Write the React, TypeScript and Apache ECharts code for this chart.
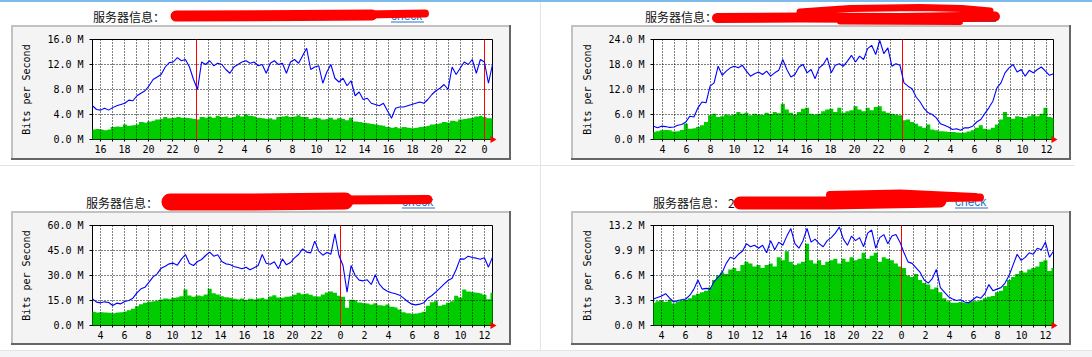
import React, { useEffect, useRef } from 'react';
import * as echarts from 'echarts';

// ---- data (Mbit/s), one value every ~20 minutes across the 33.3 h window ----
const P1_OUT = [
  5.4, 4.8,
  4.7, 5.0, 4.7, 5.1, 5.4, 5.6, 5.8, 6.3, 6.2, 7.0, 7.4, 7.8,
  8.6, 9.6, 10.0, 10.4, 11.6, 12.3, 12.4, 13.1, 12.6, 12.8, 11.6, 9.6,
  8.0, 12.4, 12.0, 12.6, 11.8, 12.2, 12.0, 11.2, 10.6, 11.6, 12.0, 12.4,
  12.6, 12.2, 12.4, 11.8, 12.0, 10.6, 12.2, 12.6, 12.0, 12.2, 10.6, 12.4,
  12.8, 12.2, 13.4, 14.6, 11.2, 11.6, 11.8, 9.0, 10.8, 12.0, 9.8, 9.2,
  9.8, 8.6, 9.4, 7.0, 7.6, 6.4, 6.6, 5.8, 5.6, 5.4, 5.8, 4.6,
  3.4, 5.0, 5.2, 5.2, 5.4, 5.6, 5.8, 6.0, 5.8, 6.4, 7.2, 7.8,
  8.2, 8.8, 8.0, 11.6, 10.4, 11.4, 12.4, 12.0, 12.8, 10.6, 12.8, 12.4,
  9.0, 12.0,
];
const P1_IN = [
  1.6, 1.7,
  1.6, 1.5, 1.6, 2.0, 2.1, 2.0, 2.4, 2.2, 2.3, 2.4, 2.8, 2.7,
  2.9, 3.0, 3.2, 3.3, 3.6, 3.4, 3.5, 3.6, 3.5, 3.5, 3.4, 3.3,
  3.2, 3.6, 3.5, 3.7, 3.5, 3.8, 3.6, 3.7, 3.5, 3.6, 3.9, 3.7,
  4.0, 3.8, 3.7, 3.5, 3.4, 3.3, 3.4, 3.2, 3.6, 3.7, 3.8, 3.6,
  3.7, 3.9, 3.6, 3.6, 3.3, 3.5, 3.4, 3.2, 3.3, 3.5, 3.2, 3.4,
  3.3, 3.1, 3.5, 2.9, 2.8, 2.7, 2.6, 2.5, 2.4, 2.3, 2.2, 2.0,
  1.9, 2.0, 1.8, 2.0, 1.9, 1.8, 1.9, 2.0, 2.1, 2.2, 2.4, 2.5,
  2.6, 2.8, 2.7, 3.0, 2.9, 3.2, 3.3, 3.4, 3.5, 3.7, 3.8, 3.6,
  3.4, 3.4,
];
const P2_OUT = [
  3.2, 2.8,
  3.2, 3.1, 2.9, 3.0, 3.4, 3.6, 4.2, 5.6, 5.4, 7.6, 9.0, 8.8,
  12.8, 13.6, 17.6, 15.4, 16.4, 17.2, 17.6, 17.2, 17.8, 16.4, 15.2, 15.8,
  16.2, 15.6, 16.4, 15.2, 16.0, 16.6, 19.2, 16.8, 15.0, 15.6, 17.4, 18.0,
  16.0, 16.8, 14.6, 17.2, 18.0, 19.6, 16.0, 17.8, 18.2, 17.6, 18.8, 20.2,
  18.6, 20.0, 19.2, 21.8, 22.6, 20.4, 23.8, 20.6, 22.0, 17.6, 18.2, 17.8,
  13.6, 12.8, 12.2, 10.2, 9.0, 7.4, 6.4, 6.0, 5.2, 3.8, 3.4, 3.0,
  2.4, 2.6, 2.2, 2.8, 2.8, 3.2, 4.2, 4.8, 6.2, 7.6, 9.2, 12.4,
  13.6, 16.0, 17.2, 18.0, 16.2, 16.8, 15.2, 16.6, 16.0, 16.8, 17.4, 16.4,
  15.4, 15.8,
];
const P2_IN = [
  1.8, 2.0,
  2.2, 2.3, 2.2, 1.9, 2.0, 2.3, 3.8, 2.6, 2.7, 3.0, 3.4, 4.2,
  5.8, 6.2, 5.4, 5.6, 6.0, 5.8, 6.0, 6.6, 6.2, 6.4, 5.8, 6.2,
  6.0, 5.9, 6.4, 6.1, 6.6, 6.3, 8.6, 7.2, 6.4, 6.0, 6.6, 7.4,
  7.6, 6.2, 6.0, 6.2, 6.8, 7.2, 7.4, 6.6, 7.6, 6.4, 6.8, 7.0,
  8.0, 7.2, 6.8, 7.6, 7.0, 7.8, 8.0, 6.8, 6.4, 6.2, 6.0, 5.8,
  4.6, 4.8, 4.2, 3.8, 3.2, 2.8, 3.6, 2.4, 2.2, 2.0, 1.9, 1.8,
  1.8, 1.7, 1.6, 1.7, 1.9, 2.2, 2.8, 3.4, 2.6, 2.4, 2.8, 3.6,
  4.8, 6.6, 5.4, 5.0, 5.6, 5.4, 5.2, 5.6, 6.0, 5.6, 6.2, 7.6,
  5.4, 5.2,
];
const P3_OUT = [
  16.0, 14.0,
  13.6, 14.2, 13.8, 12.0, 13.4, 13.0, 14.4, 15.0, 16.4, 19.6, 22.0, 23.0,
  26.0, 29.2, 31.0, 34.4, 35.6, 37.0, 37.4, 36.2, 39.8, 42.6, 37.2, 36.0,
  38.4, 39.6, 42.0, 44.0, 41.6, 42.4, 38.4, 37.0, 36.6, 35.4, 34.8, 34.0,
  35.0, 33.4, 34.6, 36.0, 42.6, 37.4, 36.8, 38.2, 34.0, 40.0, 36.4, 37.8,
  40.6, 42.6, 46.0, 44.0, 43.6, 50.6, 44.6, 42.2, 43.8, 42.8, 55.0, 42.0,
  36.0, 20.0, 36.0, 30.0, 27.2, 26.8, 27.4, 24.6, 30.4, 24.8, 22.0, 20.6,
  19.6, 19.0, 18.2, 16.4, 14.4, 12.8, 12.4, 12.8, 13.6, 16.4, 18.0, 20.2,
  22.4, 24.8, 27.0, 28.4, 33.6, 40.0, 39.8, 41.6, 40.8, 40.4, 39.8, 40.6,
  35.0, 41.0,
];
const P3_IN = [
  8.2, 7.8,
  8.0, 7.8, 7.6, 7.4, 7.8, 8.0, 8.4, 9.2, 10.0, 11.6, 12.8, 13.6,
  14.2, 14.6, 15.0, 15.6, 16.2, 15.8, 16.6, 17.0, 17.6, 21.6, 18.0, 17.2,
  18.0, 17.6, 18.6, 22.0, 19.4, 18.6, 17.6, 17.0, 16.6, 16.0, 15.6, 16.2,
  15.4, 16.0, 15.6, 16.2, 16.6, 15.8, 17.4, 18.2, 16.8, 16.6, 17.2, 17.6,
  18.4, 19.6, 18.8, 19.2, 18.4, 17.6, 17.4, 18.6, 19.8, 20.4, 19.6, 17.8,
  17.2, 10.6, 15.4, 15.2, 13.8, 13.4, 13.2, 12.6, 13.4, 12.2, 11.8, 12.6,
  11.2, 10.8, 9.6, 8.0, 7.4, 7.0, 7.2, 7.6, 8.2, 11.8, 14.0, 14.6,
  11.8, 12.4, 13.6, 14.6, 17.8, 16.8, 21.6, 20.4, 20.0, 19.6, 19.2, 18.4,
  15.8, 19.6,
];
const P4_OUT = [
  3.5, 3.7,
  3.9, 4.2, 3.6, 3.1, 3.3, 3.4, 3.5, 4.0, 4.8, 6.0, 4.8, 4.9,
  4.8, 5.8, 6.4, 7.0, 8.2, 9.0, 8.8, 9.4, 9.8, 10.8, 10.4, 10.6,
  10.2, 10.6, 9.6, 11.2, 10.0, 11.0, 10.6, 11.8, 12.8, 10.8, 10.2, 11.2,
  12.8, 11.0, 11.4, 10.8, 10.4, 11.2, 11.6, 12.2, 13.0, 11.4, 10.6, 11.8,
  11.2, 11.6, 10.4, 12.2, 12.6, 10.2, 11.6, 12.0, 10.8, 11.8, 12.0, 11.0,
  9.6, 8.4, 8.2, 7.6, 7.0, 6.0, 5.6, 6.2, 7.4, 5.0, 4.4, 3.8,
  3.5, 3.3, 3.4, 3.1, 3.0, 3.4, 3.8, 3.6, 4.2, 5.4, 4.6, 4.8,
  5.0, 5.6, 6.6, 8.0, 9.4, 8.6, 9.0, 9.6, 9.4, 10.2, 10.0, 11.0,
  9.0, 9.8,
];
const P4_IN = [
  3.0, 3.2,
  3.3, 3.1, 3.4, 2.9, 3.2, 3.3, 3.4, 3.6, 4.0, 4.2, 4.4, 4.6,
  5.0, 6.0, 6.6, 7.0, 6.8, 7.4, 7.6, 7.2, 8.0, 8.4, 8.2, 7.8,
  8.0, 7.6, 8.0, 8.2, 7.8, 9.0, 8.6, 9.8, 8.4, 8.0, 8.2, 8.4,
  10.8, 8.6, 8.2, 8.6, 8.0, 8.4, 8.6, 8.8, 8.2, 8.8, 8.4, 9.0,
  8.6, 8.8, 9.6, 8.8, 9.2, 9.6, 8.4, 9.0, 8.8, 8.6, 8.2, 7.8,
  7.6, 6.6, 6.4, 6.8, 6.0, 5.6, 5.4, 4.8, 5.0, 4.4, 3.6, 3.2,
  3.0, 3.0, 3.1, 3.0, 3.1, 3.2, 3.2, 3.3, 3.6, 3.8, 3.9, 4.4,
  4.6, 5.2, 6.0, 6.4, 6.8, 7.2, 7.0, 7.4, 7.6, 7.8, 8.4, 8.6,
  7.2, 7.6,
];

const Y_MAX = [16, 24, 60, 13.2];
const T_START = [15 + 1 / 3, 3.25, 3 + 1 / 3, 3 + 1 / 3];
const SPAN_HOURS = 100 / 3;
const TITLE = '服务器信息：';
const LINK_TEXT = 'check';
const Y_NAME = 'Bits per Second';

// ---- layout ----
const MONO = '"DejaVu Sans Mono", monospace';
const PLOT_W = 400;
const PLOT_H = 100;
const LAYOUT = [
  {
    left: 92.5, top: 39.5, box: [11, 25, 511, 160], titleX: 93, titleY: 16, linkX: 391, linkY: 15.5,
    scribbles: [
      { w: 11, pts: [[176, 16], [300, 15.5], [372, 15]] },
      { w: 8, pts: [[365, 14.5], [425, 13.5]] },
    ],
  },
  {
    left: 653.5, top: 39.5, box: [571, 25, 1071, 160], titleX: 645, titleY: 16.5, linkX: 963, linkY: 15,
    scribbles: [
      { w: 10, pts: [[717, 18], [800, 17.5], [900, 18], [995, 16.5]] },
      { w: 7, pts: [[800, 12], [850, 8.5], [920, 7.5], [962, 8.5], [990, 11]] },
      { w: 6, pts: [[840, 21.5], [960, 22]] },
    ],
  },
  {
    left: 92.5, top: 225.5, box: [11, 211, 511, 345], titleX: 86, titleY: 202, linkX: 402, linkY: 201.5,
    scribbles: [
      { w: 17, pts: [[170, 202], [250, 202], [345, 201]] },
      { w: 9, pts: [[340, 200], [428, 199.5]] },
    ],
  },
  {
    left: 653.5, top: 225.5, box: [571, 211, 1071, 345], titleX: 653, titleY: 202.5, linkX: 955, linkY: 201.5,
    scribbles: [
      { w: 13, pts: [[740, 203], [830, 203], [940, 201]] },
      { w: 8, pts: [[830, 195], [900, 193.5], [975, 197]] },
      { w: 8, pts: [[940, 198], [980, 197.5]] },
    ],
  },
];

const OUTS = [P1_OUT, P2_OUT, P3_OUT, P4_OUT];
const INS = [P1_IN, P2_IN, P3_IN, P4_IN];

function toPairs(vals: number[], t0: number) {
  const n = vals.length;
  return vals.map((v, i) => [t0 + (i * SPAN_HOURS) / (n - 1), v]);
}

function hoursBetween(a: number, b: number) {
  const res: number[] = [];
  for (let h = Math.ceil(a - 1e-9); h <= b + 1e-9; h++) res.push(h);
  return res;
}

function buildOption() {
  const grid: any[] = [];
  const xAxis: any[] = [];
  const yAxis: any[] = [];
  const series: any[] = [];
  const graphic: any[] = [];

  // page decorations
  graphic.push({ type: 'rect', z: -20, shape: { x: 0, y: 0, width: 1092, height: 2 }, style: { fill: '#7fbbea' } });
  graphic.push({ type: 'rect', z: -20, shape: { x: 540, y: 2, width: 1, height: 349 }, style: { fill: '#e1e3e8' } });
  graphic.push({ type: 'rect', z: -20, shape: { x: 0, y: 165, width: 1075, height: 1 }, style: { fill: '#e1e3e8' } });
  graphic.push({ type: 'rect', z: -20, shape: { x: 0, y: 351, width: 1092, height: 6 }, style: { fill: '#f4f4f6' } });
  graphic.push({ type: 'rect', z: -20, shape: { x: 0, y: 350, width: 1092, height: 1 }, style: { fill: '#e3e4e8' } });

  LAYOUT.forEach((L, k) => {
    const t0 = T_START[k];
    const t1 = t0 + SPAN_HOURS;
    const yMax = Y_MAX[k];
    const hours = hoursBetween(t0, t1);
    const evenHours = hours.filter((h) => h % 2 === 0);
    const midnights = hours.filter((h) => h % 24 === 0);
    const [bx0, by0, bx1, by1] = L.box;

    // frame box
    graphic.push({ type: 'rect', z: -10, shape: { x: bx0, y: by0, width: bx1 - bx0, height: by1 - by0 }, style: { fill: '#f4f4f4' } });
    graphic.push({ type: 'rect', z: -9, shape: { x: bx0, y: by0, width: bx1 - bx0, height: 2 }, style: { fill: '#c2c2c2' } });
    graphic.push({ type: 'rect', z: -9, shape: { x: bx0, y: by0, width: 2, height: by1 - by0 }, style: { fill: '#c2c2c2' } });
    graphic.push({ type: 'rect', z: -9, shape: { x: bx1 - 2, y: by0, width: 2, height: by1 - by0 }, style: { fill: '#666666' } });
    graphic.push({ type: 'rect', z: -9, shape: { x: bx0, y: by1 - 2, width: bx1 - bx0, height: 2 }, style: { fill: '#666666' } });

    // y axis name
    graphic.push({
      type: 'text', z: 5, x: L.left - 66, y: L.top + PLOT_H / 2, rotation: Math.PI / 2,
      style: { text: Y_NAME, font: '10px ' + MONO, fill: '#000', align: 'center', verticalAlign: 'middle' },
    });

    // title, link, scribble
    graphic.push({
      type: 'text', z: 5, x: L.titleX, y: L.titleY,
      style: { text: TITLE, font: '12px "Noto Sans CJK SC"', fill: '#111', verticalAlign: 'middle' },
    });
    if (k === 3) {
      graphic.push({
        type: 'text', z: 5, x: L.titleX + 75, y: L.titleY,
        style: { text: '2', font: '12px "Noto Sans CJK SC"', fill: '#111', verticalAlign: 'middle' },
      });
    }
    graphic.push({
      type: 'text', z: 5, x: L.linkX, y: L.linkY,
      style: { text: LINK_TEXT, font: '12px "Liberation Sans"', fill: '#2a6fc4', verticalAlign: 'middle' },
    });
    graphic.push({
      type: 'line', z: 5, shape: { x1: L.linkX, y1: L.linkY + 6.5, x2: L.linkX + 33, y2: L.linkY + 6.5 },
      style: { stroke: '#2a6fc4', lineWidth: 1 },
    });
    L.scribbles.forEach((s) => {
      graphic.push({
        type: 'polyline', z: 6, shape: { points: s.pts },
        style: { stroke: '#ff0000', lineWidth: s.w, lineCap: 'round', lineJoin: 'round', fill: null },
      });
    });

    grid.push({
      left: L.left, top: L.top, width: PLOT_W, height: PLOT_H,
      show: true, backgroundColor: '#ffffff', borderColor: '#000', borderWidth: 1,
    });

    xAxis.push({
      gridIndex: k, type: 'value', min: t0, max: t1,
      axisLine: { show: true, onZero: false, lineStyle: { color: '#000', width: 1 } },
      axisTick: { show: true, customValues: hours, length: 2, lineStyle: { color: '#000' } },
      axisLabel: {
        customValues: evenHours, margin: 5, color: '#000', fontFamily: MONO, fontSize: 10,
        formatter: (v: number) => String(Math.round(v) % 24),
      },
      splitLine: { show: false },
    });

    yAxis.push({
      gridIndex: k, type: 'value', min: 0, max: yMax, interval: yMax / 4,
      axisLine: { show: true, lineStyle: { color: '#000', width: 1 } },
      axisTick: { show: true, length: 3, lineStyle: { color: '#000' } },
      axisLabel: {
        margin: 9, color: '#000', fontFamily: MONO, fontSize: 10,
        formatter: (v: number) => v.toFixed(1) + ' M',
      },
      splitLine: { show: false },
    });

    const dotted = { color: '#000', type: [1, 2], width: 1 };
    const markData: any[] = [];
    hours.filter((h) => h % 24 !== 0 && h > t0 + 1e-6 && h < t1 - 1e-6).forEach((h) => markData.push({ xAxis: h }));
    [1, 2, 3].forEach((q) => markData.push({ yAxis: (q * yMax) / 4 }));
    midnights.forEach((h) => markData.push({ xAxis: h, lineStyle: { color: '#ff0000', type: 'solid', width: 1 } }));

    series.push({
      type: 'line', xAxisIndex: k, yAxisIndex: k, z: 2,
      data: toPairs(INS[k], t0), step: 'middle', symbol: 'none',
      lineStyle: { width: 0, color: '#00cc00' }, itemStyle: { color: '#00cc00' },
      areaStyle: { color: '#00cc00', opacity: 1 },
      markLine: {
        silent: true, symbol: ['none', 'none'], label: { show: false },
        lineStyle: dotted, data: markData,
      },
      markPoint: {
        silent: true, symbol: 'path://M0,0L10,5L0,10Z', symbolSize: [6, 7], symbolOffset: [1, 0],
        itemStyle: { color: '#ff0000' }, label: { show: false },
        data: [{ coord: [t1, 0] }],
      },
    });
    series.push({
      type: 'line', xAxisIndex: k, yAxisIndex: k, z: 10,
      data: toPairs(OUTS[k], t0), symbol: 'none',
      lineStyle: { width: 1.1, color: '#0000ff' }, itemStyle: { color: '#0000ff' },
    });
  });

  return { animation: false, backgroundColor: '#ffffff', grid, xAxis, yAxis, series, graphic };
}

export default function App() {
  const ref = useRef<HTMLDivElement>(null);
  useEffect(() => {
    if (!ref.current) return;
    const chart = echarts.init(ref.current, undefined, { renderer: 'svg' });
    chart.setOption(buildOption() as any);
    return () => chart.dispose();
  }, []);
  return (
    <div
      ref={ref}
      style={{ position: 'fixed', left: 0, top: 0, width: 1092, height: 357, background: '#fff' }}
    />
  );
}
